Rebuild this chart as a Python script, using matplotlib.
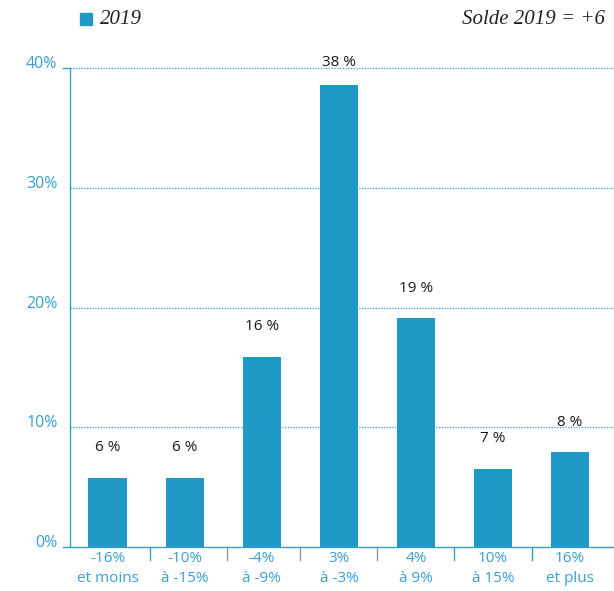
import matplotlib.pyplot as plt
from matplotlib.transforms import ScaledTranslation

# Données
categories = ['-16%\net moins', '-10%\nà -15%', '-4%\nà -9%', '3%\nà -3%',
              '4%\nà 9%', '10%\nà 15%', '16%\net plus']
valeurs = [5.8, 5.8, 15.9, 38.6, 19.1, 6.5, 7.9]
etiquettes = ['6 %', '6 %', '16 %', '38 %', '19 %', '7 %', '8 %']
yticks = [0, 10, 20, 30, 40]
ytick_labels = ['0%', '10%', '20%', '30%', '40%']

bleu = '#1f9ac6'
bleu_txt = '#3a9fd0'

fig = plt.figure(figsize=(6.14, 5.91), dpi=100)
ax = fig.add_axes([70/614, 44/591, 544/614, (547-68)/591])

x = list(range(len(valeurs)))
ax.bar(x, valeurs, width=0.5, color=bleu, zorder=3)

for xi, v, lab in zip(x, valeurs, etiquettes):
    dy = 1.2 if v > 30 else 1.9
    ax.text(xi, v + dy, lab, ha='center', va='bottom', fontsize=11,
            color='#1a1a1a', family='Open Sans', weight='medium', clip_on=False)

ax.set_xlim(-0.49, 6.57)
ax.set_ylim(0, 40)

# grille pointillée
for yv in yticks[1:]:
    ax.axhline(yv, color=bleu_txt, lw=0.9, ls=(0, (1, 1.2)), zorder=1, clip_on=False)

for s in ['top', 'right']:
    ax.spines[s].set_visible(False)
ax.spines['left'].set_color(bleu_txt)
ax.spines['bottom'].set_color(bleu_txt)
ax.spines['left'].set_linewidth(1)
ax.spines['bottom'].set_linewidth(1)
ax.spines['bottom'].set_bounds(-0.58, 6.57)

ax.set_yticks(yticks)
ax.set_yticklabels(ytick_labels, color=bleu_txt, fontsize=11.5, family='Open Sans')
ax.tick_params(axis='y', length=0, pad=9)
off = ScaledTranslation(0, 6/100, fig.dpi_scale_trans)
for t in ax.get_yticklabels():
    t.set_transform(t.get_transform() + off)
ax.plot([-0.58, -0.49], [40, 40], color=bleu_txt, lw=1, clip_on=False)

ax.set_xticks(x)
ax.set_xticklabels(categories, color=bleu_txt, fontsize=11, family='Open Sans',
                   linespacing=1.45)
ax.tick_params(axis='x', length=0, pad=3)

# séparateurs sous l'axe
for i, xs in enumerate([0.55, 1.55, 2.5, 3.5, 4.5, 5.5]):
    col = '#999999' if i in (1, 2, 3) else bleu_txt
    ax.plot([xs, xs], [0, -1.1], color=col, lw=1, clip_on=False)

# légende et solde
fig.patches.append(plt.Rectangle((80/614, 1-25/591), 12/614, 12/591,
                                 transform=fig.transFigure, color=bleu))
fig.text(100/614, 1-19/591, '2019', fontsize=15, style='italic',
         family='Liberation Serif', va='center', color='#222222')
fig.text(605/614, 1-19/591, 'Solde 2019 = +6', fontsize=15, style='italic',
         family='Liberation Serif', va='center', ha='right', color='#222222')

fig.savefig('out.png', dpi=100)
